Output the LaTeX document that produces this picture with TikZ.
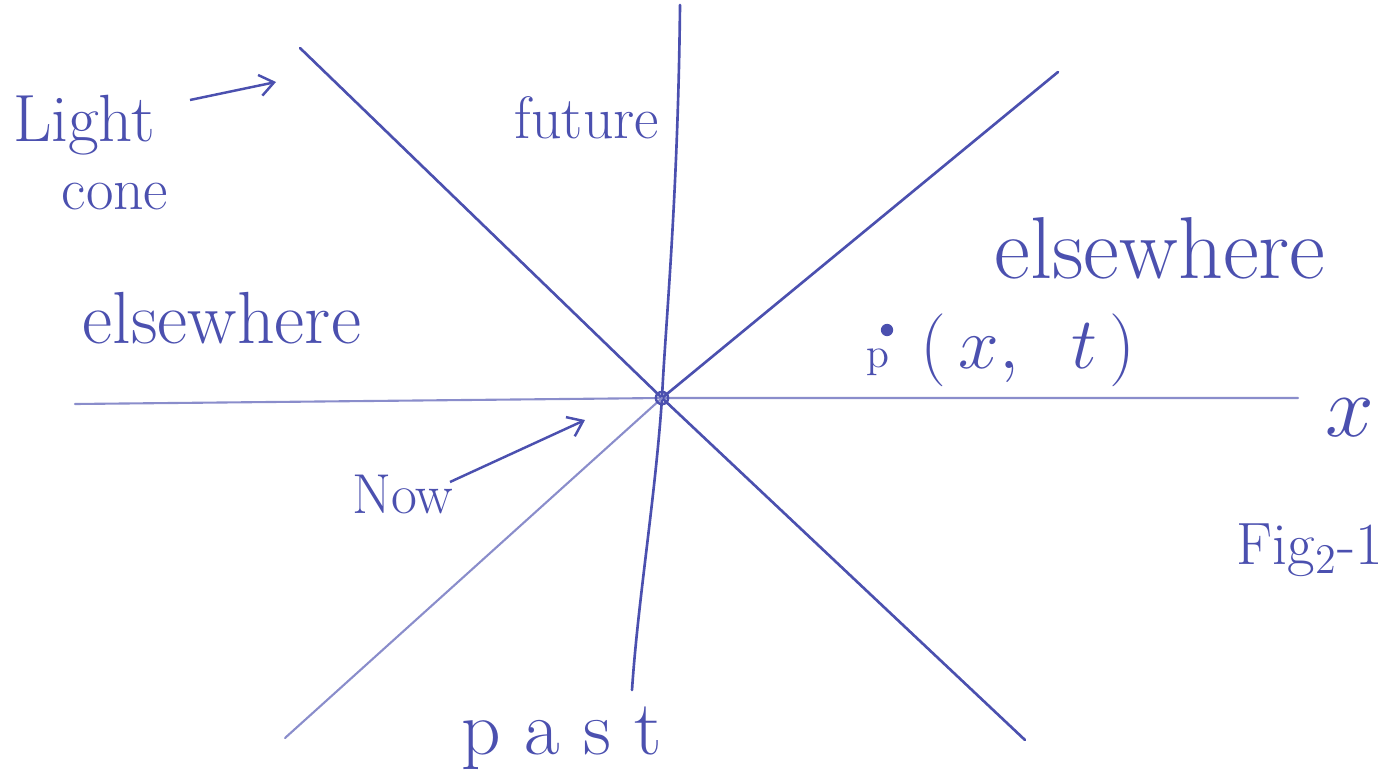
\documentclass[tikz,border=0pt]{standalone}
\usetikzlibrary{arrows.meta}
\definecolor{ink}{RGB}{75,80,175}
\begin{document}
\begin{tikzpicture}[x=0.01cm,y=-0.01cm,
  pen/.style={draw=ink,line width=0.75pt,line cap=round},
  faint/.style={draw=ink!65,line width=0.6pt,line cap=round},
  hand/.style={text=ink,inner sep=0pt,anchor=center},
  ptr/.style={draw=ink,line width=0.7pt,-{Straight Barb[length=4pt,width=6pt]}}]
\useasboundingbox (0,0) rectangle (1397,782);
% axes ends
\coordinate (O) at (662,398);
\coordinate (tTop) at (680,5);
\coordinate (tBot) at (632,690);
\coordinate (xL) at (75,404);
\coordinate (xR) at (1298,398);
\coordinate (c1a) at (300,48);
\coordinate (c1b) at (1025,740);
\coordinate (c2a) at (1058,72);
\coordinate (c2b) at (285,738);
% lines
\draw[pen] (tTop) .. controls (678,200) and (665,330) .. (O) .. controls (655,500) and (638,600) .. (tBot);
\draw[faint] (xL) -- (O) -- (xR);
\draw[pen] (c1a) -- (O) -- (c1b);
\draw[pen] (c2a) -- (O);
\draw[faint] (O) -- (c2b);
\node[draw=ink,line width=0.7pt,circle,minimum size=3.5pt,inner sep=0pt] (Oc) at (O) {};
% texts
\node[hand,font=\fontsize{19}{19}\selectfont] (light) at (84,125) {Light};
\node[hand,font=\fontsize{17}{17}\selectfont] (cone) at (115,197) {cone};
\node[hand,font=\fontsize{21}{21}\selectfont] (elsL) at (222,318) {elsewhere};
\node[hand,font=\fontsize{17}{17}\selectfont] (future) at (587,118) {future};
\node[hand,font=\fontsize{25}{25}\selectfont] (elsR) at (1160,248) {elsewhere};
\node[hand,font=\fontsize{16}{16}\selectfont] (now) at (403,495) {Now};
\node[hand,font=\fontsize{22}{22}\selectfont] (past) at (562,738) {p a s t};
\node[hand,font=\fontsize{30}{30}\selectfont] (xlab) at (1350,418) {$x$};
\node[hand,font=\fontsize{17}{17}\selectfont,anchor=west] (fig) at (1236,550) {Fig$_2$-1};
% event P
\node[fill=ink,circle,minimum size=3.5pt,inner sep=0pt] (P) at (887,330) {};
\node[hand,font=\fontsize{12}{12}\selectfont] (plab) at (878,362) {p};
\node[hand,font=\fontsize{22}{22}\selectfont] (xt) at (1028,350) {$(\,x,\;\; t\,)$};
% pointers
\coordinate (lcTip) at (276,82);
\coordinate (nowTip) at (585,420);
\draw[ptr] (190,100) -- (lcTip);
\draw[ptr] (450,482) -- (nowTip);
\end{tikzpicture}
\end{document}
